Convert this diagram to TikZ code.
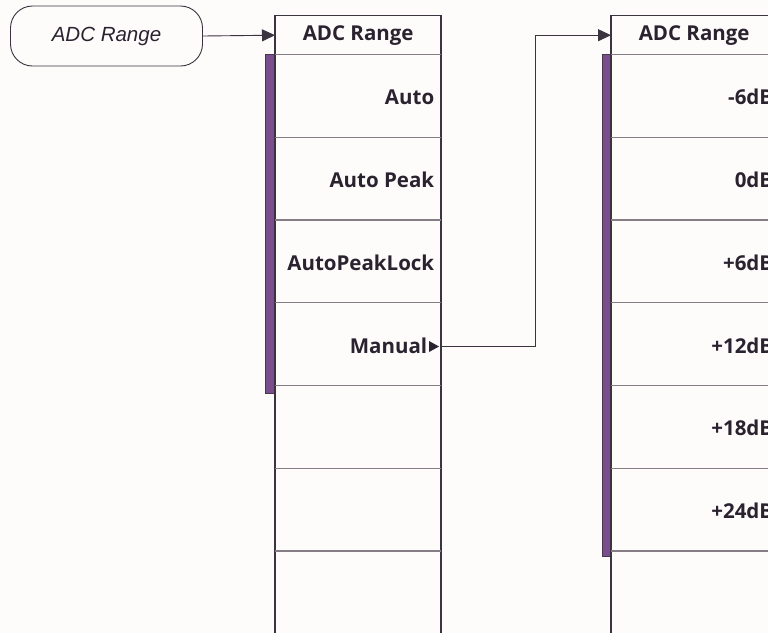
\documentclass[tikz,border=0pt]{standalone}
\usepackage{fontspec}
\setmainfont{Open Sans}
\newfontfamily\itfont{Liberation Sans}
\usetikzlibrary{arrows.meta}
\definecolor{bgc}{HTML}{FDFCFB}
\definecolor{txt}{HTML}{2B2230}
\definecolor{edge}{HTML}{3A3340}
\definecolor{sep}{HTML}{857C85}
\definecolor{bar}{HTML}{7A4E8C}
\begin{document}
\begin{tikzpicture}[x=1pt,y=-1pt,
  cell/.style={minimum width=166pt,minimum height=82.75pt,inner sep=0pt,anchor=north west},
  lbl/.style={font=\bfseries\fontsize{20.5}{22}\selectfont,text=txt,inner sep=0pt},
  colline/.style={draw=edge,line width=1.1pt},
  rowline/.style={draw=sep,line width=1.4pt},
  barbox/.style={fill=bar,draw=edge!80!bar,line width=0.6pt},
  conn/.style={draw=edge,line width=0.9pt},
  tip/.style={-{Triangle[length=13pt,width=12pt]}}]
\fill[bgc] (0,0) rectangle (768,633);
\useasboundingbox (0,0) rectangle (768,633);
\clip (0,0) rectangle (768,633);
% left terminal
\node[draw=edge,line width=0.9pt,rounded corners=22pt,minimum width=192pt,minimum height=60pt,inner sep=0pt,
  font=\itfont\itshape\fontsize{20.5}{22}\selectfont,text=txt] (src) at (106.5,36) {ADC Range};
% column 1
\node[cell,minimum height=39pt] (h1) at (275,15.5) {};
\node[lbl] at (h1.center) {ADC Range};
\foreach \i in {1,...,7}{
  \node[cell] (a\i) at (275,{54.5+(\i-1)*82.75}) {};
}
\foreach \i/\t in {1/Auto,2/Auto Peak,3/AutoPeakLock}{
  \node[lbl,anchor=east] at ([xshift=-7pt,yshift=-1pt]a\i.east) {\t};
}
\node[lbl,anchor=east] (man) at ([xshift=-14pt,yshift=-1pt]a4.east) {Manual};
\fill[txt] (429,341) -- (439,346.5) -- (429,352) -- cycle;
\fill[barbox] (265.5,54.5) rectangle (274.5,393);
\draw[colline] (275,633) -- (275,15.5) -- (441,15.5) -- (441,633);
\foreach \y in {54.5,137.25,220,302.75,385.5,468.25,551}{
  \draw[rowline] (275,\y) -- (441,\y);
}
% column 2
\node[cell,minimum height=39pt] (h2) at (611,15.5) {};
\node[lbl] at (h2.center) {ADC Range};
\foreach \i/\t in {1/-6dB,2/0dB,3/+6dB,4/+12dB,5/+18dB,6/+24dB,7/}{
  \node[cell] (b\i) at (611,{54.5+(\i-1)*82.75}) {};
  \node[lbl,anchor=east] at ([xshift=-4pt,yshift=-1pt]b\i.east) {\t};
}
\fill[barbox] (602,54.5) rectangle (611,556.5);
\draw[colline] (611,633) -- (611,15.5) -- (777,15.5) -- (777,633);
\foreach \y in {54.5,137.25,220,302.75,385.5,468.25,551}{
  \draw[rowline] (611,\y) -- (777,\y);
}
% connectors
\draw[conn,tip] (src.east) -- (h1.west);
\draw[conn,tip] ([yshift=-2pt]a4.east) -- ([xshift=94pt,yshift=-2pt]a4.east) |- (h2.west);
\end{tikzpicture}
\end{document}
